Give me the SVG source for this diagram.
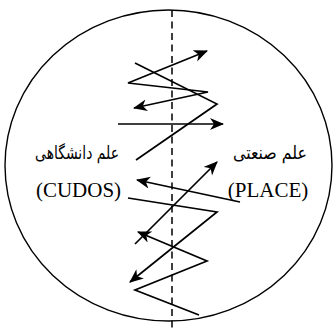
<svg xmlns="http://www.w3.org/2000/svg" width="335" height="329" viewBox="0 0 335 329">
<style>
.ln{fill:none;stroke:#000;stroke-width:1.7;stroke-linejoin:miter}
</style>
<defs>
<marker id="ah" markerUnits="userSpaceOnUse" markerWidth="16" markerHeight="14" refX="13" refY="6" orient="auto-start-reverse">
<path d="M0,0 L14,6 L0,12 L4,6 z" fill="#000"/>
</marker>
</defs>
<rect width="335" height="329" fill="#fff"/>
<g id="boundary">
<ellipse cx="168.5" cy="165.5" rx="163.5" ry="155.5" fill="none" stroke="#000" stroke-width="1.4"/>
<line x1="172" y1="10" x2="172" y2="329" stroke="#000" stroke-width="1.5" stroke-dasharray="7,4.5"/>
</g>
<g id="connectors">
<path class="ln" d="M207,51 L128,83 L208,92 L134,108" marker-start="url(#ah)" marker-end="url(#ah)"/>
<path class="ln" d="M135,63 L217,104 L136,160"/>
<path class="ln" d="M118,124 L223,124" marker-end="url(#ah)"/>
<path class="ln" d="M135,244 L217,162" marker-end="url(#ah)"/>
<path class="ln" d="M240,202 L137,180" marker-end="url(#ah)"/>
<path class="ln" d="M128,198 L217,212 L130,282" marker-end="url(#ah)"/>
<path class="ln" d="M138,232 L207,261 L135,290 L199,315" marker-start="url(#ah)"/>
</g>
<g id="academic" text-anchor="middle" fill="#000">
<text x="77" y="159" font-family="DejaVu Sans, sans-serif" font-size="18" textLength="84" lengthAdjust="spacingAndGlyphs">علم دانشگاهی</text>
<text x="78.5" y="197" font-family="Liberation Serif, Times New Roman, serif" font-size="21">(CUDOS)</text>
</g>
<g id="industrial" text-anchor="middle" fill="#000">
<text x="270" y="159" font-family="DejaVu Sans, sans-serif" font-size="18" textLength="74" lengthAdjust="spacingAndGlyphs">علم صنعتی</text>
<text x="268" y="197" font-family="Liberation Serif, Times New Roman, serif" font-size="21">(PLACE)</text>
</g>
</svg>
